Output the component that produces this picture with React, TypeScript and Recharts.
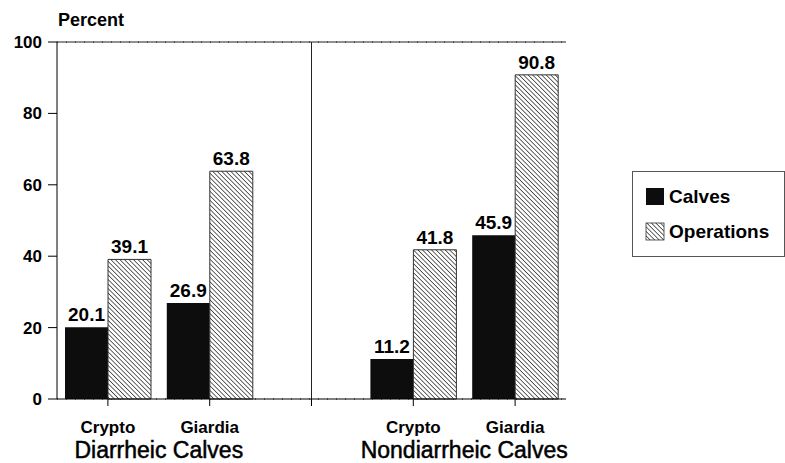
import React from 'react';
import {
  BarChart,
  Bar,
  XAxis,
  YAxis,
  CartesianGrid,
  ReferenceLine,
  LabelList,
  Label,
} from 'recharts';

const categories = ['Crypto', 'Giardia', '', 'Crypto', 'Giardia'];
const groups = ['Diarrheic Calves', '', '', 'Nondiarrheic Calves', ''];
const calves = [20.1, 26.9, null, 11.2, 45.9];
const operations = [39.1, 63.8, null, 41.8, 90.8];
const yTicks = [0, 20, 40, 60, 80, 100];

const W = 785;
const H = 463;
const MARGIN = { top: 42, right: 219, bottom: 0, left: 0 };
const Y_AXIS_W = 57;
const FONT = '"Liberation Sans", Arial, Helvetica, sans-serif';

const data = categories.map((c, i) => ({
  key: `c${i}`,
  label: c,
  group: groups[i],
  calves: calves[i],
  operations: operations[i],
}));

// width of one category band, used to centre the group label under two ticks
const bandWidth = (W - MARGIN.left - MARGIN.right - Y_AXIS_W) / categories.length;

const XTick = (props: any) => {
  const { x, y, index } = props;
  const row = data[index];
  if (!row) return null;
  return (
    <g>
      <text
        x={x}
        y={y}
        dy="0.71em"
        textAnchor="middle"
        fontFamily={FONT}
        fontWeight="bold"
        fontSize={17}
        fill="#000"
      >
        {row.label}
      </text>
      {row.group && (
        <text
          x={x + bandWidth / 2}
          y={y + 37}
          textAnchor="middle"
          fontFamily={FONT}
          fontSize={23}
          fill="#000"
          stroke="#000"
          strokeWidth={0.5}
        >
          {row.group}
        </text>
      )}
    </g>
  );
};

const HatchLegend = () => (
  <div
    style={{
      position: 'absolute',
      left: 632,
      top: 171,
      width: 151,
      height: 84,
      border: '1px solid #555',
      background: '#fff',
      fontFamily: FONT,
      fontWeight: 'bold',
      fontSize: 19,
    }}
  >
    <svg width={20} height={80} style={{ position: 'absolute', left: 12, top: 0 }}>
      <defs>
        <pattern
          id="hatchLegend"
          patternUnits="userSpaceOnUse"
          width={3.2}
          height={3.2}
          patternTransform="rotate(-45)"
        >
          <line x1={0} y1={0} x2={0} y2={3.2} stroke="#000" strokeWidth={1.2} />
        </pattern>
      </defs>
      <rect x={1} y={16} width={18} height={17} fill="#0d0d0d" />
      <rect x={1} y={51} width={18} height={17} fill="url(#hatchLegend)" stroke="#333" strokeWidth={0.8} />
    </svg>
    <div style={{ position: 'absolute', left: 36, top: 14 }}>Calves</div>
    <div style={{ position: 'absolute', left: 36, top: 49 }}>Operations</div>
  </div>
);

const App: React.FC = () => {
  return (
    <div style={{ position: 'absolute', left: 0, top: 0, width: W, height: H, background: '#fff' }}>
      <BarChart
        width={W}
        height={H}
        data={data}
        margin={MARGIN}
        barCategoryGap={8}
        barGap={0}
      >
        <defs>
          <pattern
            id="hatch"
            patternUnits="userSpaceOnUse"
            width={3.2}
            height={3.2}
            patternTransform="rotate(-45)"
          >
            <rect width={3.2} height={3.2} fill="#fff" />
            <line x1={0} y1={0} x2={0} y2={3.2} stroke="#000" strokeWidth={1.2} />
          </pattern>
        </defs>
        <CartesianGrid
          vertical={false}
          stroke="#000"
          strokeDasharray="1 8"
        />
        <XAxis
          dataKey="key"
          interval={0}
          height={64}
          tickSize={7}
          tickMargin={15}
          stroke="#000"
          tick={<XTick />}
        />
        <YAxis
          yAxisId="left"
          width={Y_AXIS_W}
          domain={[0, 100]}
          ticks={yTicks}
          interval={0}
          tickSize={9}
          tickMargin={6}
          stroke="#000"
          tick={{ fontFamily: FONT, fontWeight: 'bold', fontSize: 17, fill: '#000' }}
          label={
            <Label
              content={() => (
                <text x={58} y={26} fontFamily={FONT} fontWeight="bold" fontSize={18} fill="#000">
                  Percent
                </text>
              )}
            />
          }
        />
        <YAxis
          yAxisId="right"
          orientation="right"
          width={0}
          domain={[0, 100]}
          tick={false}
          tickLine={false}
          stroke="#222"
        />
        <ReferenceLine yAxisId="left" y={100} stroke="#222" />
        <ReferenceLine yAxisId="left" x="c2" stroke="#222" />
        <Bar yAxisId="left" dataKey="calves" fill="#0d0d0d" isAnimationActive={false}>
          <LabelList
            dataKey="calves"
            position="top"
            offset={6}
            fontFamily={FONT}
            fontWeight="bold"
            fontSize={19}
            fill="#000"
          />
        </Bar>
        <Bar
          yAxisId="left"
          dataKey="operations"
          fill="url(#hatch)"
          stroke="#333"
          strokeWidth={1}
          isAnimationActive={false}
        >
          <LabelList
            dataKey="operations"
            position="top"
            offset={6}
            fontFamily={FONT}
            fontWeight="bold"
            fontSize={19}
            fill="#000"
          />
        </Bar>
      </BarChart>
      <HatchLegend />
    </div>
  );
};

export default App;
